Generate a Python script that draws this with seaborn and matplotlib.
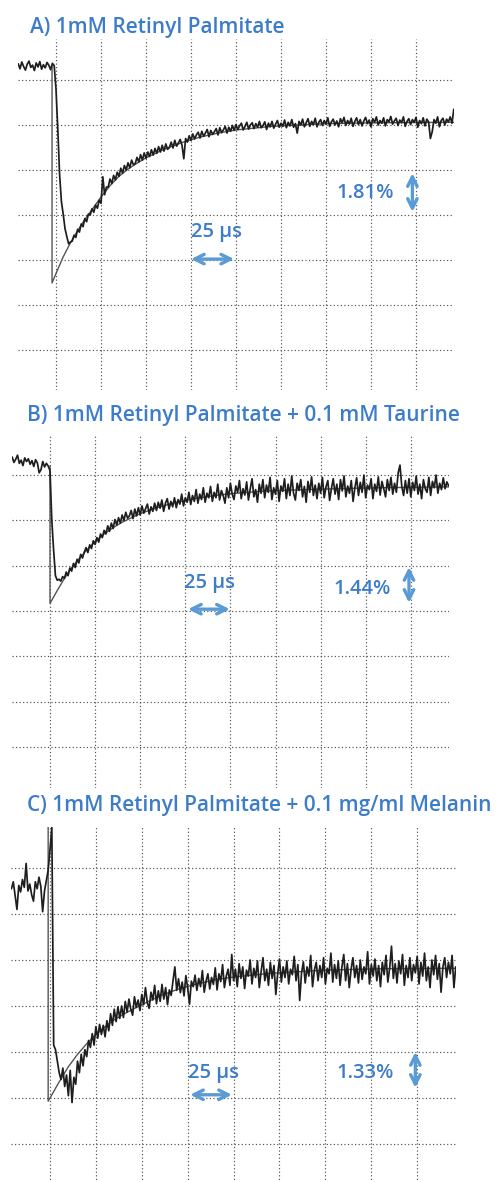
import numpy as np
import pandas as pd
import matplotlib
matplotlib.use("Agg")
import matplotlib.pyplot as plt
import seaborn as sns

W, H = 497, 1182

titles = ["A) 1mM Retinyl Palmitate",
          "B) 1mM Retinyl Palmitate + 0.1 mM Taurine",
          "C) 1mM Retinyl Palmitate + 0.1 mg/ml Melanin"]
scale_labels = ["1.81%", "1.44%", "1.33%"]   # signal per vertical division
time_label = "25 µs"                          # time per horizontal division

# oscilloscope samples: time (µs, 1 µs steps from -21 to 221), signal (divisions)
t_start, t_stop, t_step = -21, 222, 1

sig_a = [
    3.36, 3.25, 3.40, 3.30, 3.22, 3.35, 3.42, 3.28, 3.33, 3.21,        # -21..-12
    3.38, 3.29, 3.41, 3.24, 3.34, 3.27, 3.39, 3.33, 3.23, 3.37,        # -11..-2
    3.32, 2.80, 1.90, 0.90, 0.30, 0.02, -0.30, -0.48, -0.64, -0.60,    # -1..8
    -0.58, -0.45, -0.50, -0.32, -0.38, -0.20, -0.26, -0.08, -0.15, 0.02,  # 9..18
    0.00, 0.14, 0.06, 0.22, 0.15, 0.33, 0.26, 0.85, 0.45, 0.62,        # 19..28
    0.62, 0.80, 0.70, 0.88, 0.78, 0.95, 0.86, 1.04, 0.93, 1.10,        # 29..38
    1.00, 1.16, 1.05, 1.22, 1.12, 1.14, 1.28, 1.18, 1.34, 1.22,        # 39..48
    1.38, 1.26, 1.40, 1.30, 1.45, 1.33, 1.48, 1.37, 1.52, 1.40,        # 49..58
    1.55, 1.42, 1.58, 1.46, 1.50, 1.62, 1.49, 1.66, 1.53, 1.60,        # 59..68
    1.68, 1.55, 1.25, 1.70, 1.62, 1.76, 1.66, 1.80, 1.69, 1.78,        # 69..78
    1.84, 1.71, 1.86, 1.75, 1.82, 1.90, 1.74, 1.88, 1.79, 1.85,        # 79..88
    1.92, 1.78, 1.94, 1.83, 1.89, 1.97, 1.82, 1.95, 1.86, 1.99,        # 89..98
    1.88, 2.01, 1.90, 1.98, 2.04, 1.89, 1.97, 2.06, 1.91, 2.00,        # 99..108
    2.05, 1.92, 2.03, 1.95, 2.08, 1.94, 1.99, 2.07, 1.90, 2.04,        # 109..118
    1.96, 2.08, 1.93, 2.02, 2.10, 1.95, 2.04, 1.97, 2.11, 1.94,        # 119..128
    2.06, 1.98, 2.12, 1.95, 2.03, 1.82, 2.08, 2.00, 2.13, 1.96,        # 129..138
    2.05, 2.14, 1.97, 2.08, 2.01, 2.15, 1.96, 2.06, 2.12, 1.99,        # 139..148
    2.10, 2.02, 2.16, 1.97, 2.07, 2.13, 2.00, 2.09, 1.96, 2.14,        # 149..158
    2.05, 2.17, 1.99, 2.10, 2.02, 2.15, 1.97, 2.08, 2.16, 2.01,        # 159..168
    2.12, 1.98, 2.09, 2.17, 2.03, 2.11, 1.96, 2.14, 2.06, 2.18,        # 169..178
    2.00, 2.10, 2.04, 2.16, 1.98, 2.12, 2.07, 2.19, 2.02, 2.09,        # 179..188
    2.15, 1.99, 2.11, 2.05, 2.18, 1.97, 2.08, 2.14, 2.01, 2.12,        # 189..198
    2.06, 2.17, 1.95, 2.10, 2.03, 2.16, 1.98, 2.13, 2.07, 1.70,        # 199..208
    1.85, 2.12, 2.04, 2.18, 1.96, 2.10, 2.15, 2.00, 2.13, 2.07,        # 209..218
    2.18, 2.04, 2.35]                                                  # 219..221

sig_b = [
    3.40, 3.28, 3.35, 3.44, 3.26, 3.33, 3.21, 3.38, 3.30, 3.36,        # -21..-12
    3.24, 3.32, 3.19, 3.34, 3.27, 3.05, 3.12, 3.30, 3.18, 3.26,        # -11..-2
    3.20, 3.10, 2.00, 1.35, 0.78, 0.68, 0.70, 0.66, 0.76, 0.72,        # -1..8
    0.86, 0.78, 0.95, 0.88, 1.05, 0.96, 1.14, 1.06, 1.25, 1.17,        # 9..18
    1.30, 1.40, 1.29, 1.46, 1.38, 1.55, 1.47, 1.62, 1.52, 1.70,        # 19..28
    1.62, 1.78, 1.70, 1.88, 1.76, 1.94, 1.82, 2.02, 1.90, 2.06,        # 29..38
    1.94, 2.12, 2.00, 2.18, 2.05, 2.10, 2.22, 2.04, 2.25, 2.10,        # 39..48
    2.28, 2.12, 2.32, 2.16, 2.26, 2.36, 2.14, 2.30, 2.20, 2.38,        # 49..58
    2.22, 2.40, 2.27, 2.45, 2.20, 2.38, 2.48, 2.25, 2.42, 2.30,        # 59..68
    2.50, 2.28, 2.46, 2.36, 2.58, 2.32, 2.50, 2.40, 2.62, 2.35,        # 69..78
    2.55, 2.42, 2.68, 2.38, 2.58, 2.46, 2.72, 2.40, 2.60, 2.50,        # 79..88
    2.75, 2.42, 2.62, 2.50, 2.80, 2.45, 2.66, 2.55, 2.38, 2.72,        # 89..98
    2.50, 2.82, 2.58, 2.46, 2.76, 2.62, 2.88, 2.48, 2.70, 2.56,        # 99..108
    2.85, 2.45, 2.70, 2.92, 2.52, 2.68, 2.40, 2.80, 2.60, 2.90,        # 109..118
    2.50, 2.78, 2.62, 2.95, 2.46, 2.72, 2.58, 2.88, 2.42, 2.76,        # 119..128
    2.64, 2.92, 2.48, 2.80, 2.55, 2.98, 2.60, 2.45, 2.82, 2.66,        # 129..138
    2.90, 2.52, 2.75, 2.40, 2.86, 2.62, 2.96, 2.55, 2.78, 2.48,        # 139..148
    2.82, 2.60, 2.95, 2.50, 2.74, 2.88, 2.44, 2.70, 2.92, 2.58,        # 149..158
    2.80, 2.46, 2.90, 2.65, 2.98, 2.52, 2.76, 2.60, 2.88, 2.42,        # 159..168
    2.72, 2.94, 2.55, 2.84, 2.62, 3.00, 2.50, 2.78, 2.68, 2.92,        # 169..178
    2.48, 2.80, 2.64, 2.96, 2.56, 2.86, 2.70, 2.52, 2.90, 2.66,        # 179..188
    2.95, 2.58, 2.82, 2.62, 3.05, 3.22, 2.75, 2.55, 2.88, 2.60,        # 189..198
    2.92, 2.52, 2.84, 2.66, 2.98, 2.58, 2.80, 2.48, 2.90, 2.70,        # 199..208
    2.62, 2.95, 2.55, 2.86, 2.72, 3.00, 2.60, 2.82, 2.68, 2.94,        # 209..218
    2.70, 2.85, 2.76]                                                  # 219..221

sig_c = [
    2.55, 2.70, 2.40, 2.10, 2.62, 2.48, 2.75, 2.58, 3.10, 2.50,        # -21..-12
    2.65, 2.42, 2.28, 2.70, 2.55, 2.80, 2.60, 2.05, 2.50, 2.72,        # -11..-2
    2.95, 3.40, 3.88, -0.85, -0.95, -1.20, -1.45, -1.60, -1.35, -1.75, # -1..8
    -1.50, -1.95, -1.40, -2.10, -1.55, -1.70, -1.20, -1.45, -1.05, -1.30,  # 9..18
    -0.95, -1.10, -0.75, -0.90, -0.60, -0.85, -0.45, -0.70, -0.40, -0.62,  # 19..28
    -0.42, -0.67, -0.32, -0.54, -0.17, -0.42, -0.07, -0.34, -0.02, -0.27,  # 29..38
    0.00, -0.25, 0.10, -0.13, 0.15, -0.07, -0.20, 0.20, -0.03, 0.13,   # 39..48
    -0.10, 0.25, 0.03, 0.40, 0.07, -0.05, 0.30, 0.13, 0.45, 0.05,      # 49..58
    0.33, 0.10, 0.47, 0.15, 0.40, 0.03, 0.35, 0.23, 0.55, 0.85,        # 59..68
    0.34, 0.59, 0.29, 0.52, 0.22, 0.66, 0.39, 0.04, 0.54, 0.42,        # 69..78
    0.67, 0.34, 0.60, 0.42, 0.77, 0.30, 0.54, 0.70, 0.37, 0.62,        # 79..88
    0.47, 0.83, 0.35, 0.70, 0.53, 0.90, 0.40, 0.65, 0.80, 0.45,        # 89..98
    1.12, 0.55, 0.80, 0.42, 0.92, 0.60, 0.85, 0.38, 0.78, 0.65,        # 99..108
    1.00, 0.48, 0.82, 0.62, 0.98, 0.40, 0.75, 1.05, 0.55, 0.80,        # 109..118
    0.45, 0.95, 0.60, 0.88, 0.25, 0.70, 1.02, 0.52, 0.85, 0.62,        # 119..128
    0.98, 0.48, 0.80, 0.68, 1.08, 0.55, 0.90, 0.12, 0.72, 0.96,        # 129..138
    0.50, 0.85, 0.65, 1.10, 0.42, 0.78, 0.95, 0.55, 0.88, 0.62,        # 139..148
    1.05, 0.48, 0.82, 0.70, 1.15, 0.52, 0.90, 0.60, 0.98, 0.45,        # 149..158
    0.85, 1.12, 0.55, 0.92, 0.40, 0.80, 1.05, 0.62, 0.88, 0.50,        # 159..168
    1.00, 0.58, 0.85, 0.70, 1.18, 0.48, 0.90, 0.65, 1.02, 0.55,        # 169..178
    0.88, 0.42, 0.95, 0.68, 1.10, 0.52, 0.82, 1.30, 0.60, 0.92,        # 179..188
    0.50, 0.98, 0.70, 1.12, 0.45, 0.88, 0.62, 1.05, 0.55, 0.90,        # 189..198
    0.72, 1.08, 0.48, 0.95, 0.65, 1.15, 0.55, 0.85, 0.40, 1.00,        # 199..208
    0.68, 1.10, 0.58, 0.92, 0.30, 0.85, 1.05, 0.62, 0.95, 0.70,        # 209..218
    1.10, 0.40, 0.85]                                                  # 219..221

# exponential fit curves
fit_a_t = [-2.2, -2.2, 0, 4, 8, 12, 16, 20, 25, 30, 35, 40, 45, 50, 60, 70, 80, 90, 100, 120, 150, 180, 221]
fit_a = [3.31, -1.51, -1.30, -0.93, -0.62, -0.35, -0.10, 0.12, 0.40, 0.65, 0.86, 1.02, 1.15, 1.27,
         1.46, 1.61, 1.73, 1.82, 1.89, 1.97, 2.03, 2.05, 2.06]
fit_b_t = [0, 0, 4, 8, 12, 16, 20, 25, 30, 35, 40, 50, 60, 70, 80, 90, 100, 120, 150, 180, 221]
fit_b = [3.20, 0.17, 0.45, 0.72, 0.95, 1.15, 1.33, 1.53, 1.70, 1.84, 1.96, 2.15, 2.29, 2.40,
         2.48, 2.54, 2.59, 2.65, 2.69, 2.72, 2.74]
fit_c_t = [-1, -1, 5, 10, 15, 20, 25, 30, 35, 40, 50, 60, 70, 80, 90, 100, 120, 150, 180, 221]
fit_c = [3.90, -2.07, -1.65, -1.32, -1.05, -0.82, -0.62, -0.45, -0.30, -0.18, 0.03, 0.22, 0.37,
         0.48, 0.57, 0.63, 0.71, 0.78, 0.81, 0.82]

# layout (pixels): origin of t=0 / d=0, pixels per division (x, y), title position
panels = [
    dict(sig=sig_a, ft=fit_a_t, fv=fit_a, x0=56, y0=215, sx=45.0, sy=45.0, tx=30, ty=28,
         lab_t=(88.9, -0.38), harr=(75, 99, -0.98), lab_s=(171.7, 0.49), varr=(198, 0.93, 0.07)),
    dict(sig=sig_b, ft=fit_b_t, fv=fit_b, x0=50, y0=611, sx=45.1, sy=45.3, tx=27, ty=416,
         lab_t=(88.6, 0.62), harr=(76.5, 99.7, 0.04), lab_s=(172.9, 0.49), varr=(199, 0.97, 0.18)),
    dict(sig=sig_c, ft=fit_c_t, fv=fit_c, x0=50, y0=1006, sx=45.9, sy=46.0, tx=27, ty=805,
         lab_t=(89.3, -1.46), harr=(76.3, 99.1, -1.93), lab_s=(171.6, -1.46), varr=(199, -1.0, -1.78)),
]

XL = (-21, 221)
YL = (-3.9, 3.9)
BLUE_T = "#3d7cc9"
BLUE_A = "#5b9bd5"
FONT = "Open Sans"

sns.set_style("white")
plt.rcParams["font.family"] = [FONT, "DejaVu Sans"]

fig = plt.figure(figsize=(W / 100, H / 100), dpi=100)
t = np.arange(t_start, t_stop, t_step)

for i, p in enumerate(panels):
    left = p["x0"] + XL[0] / 25 * p["sx"]
    right = p["x0"] + XL[1] / 25 * p["sx"]
    top = p["y0"] - YL[1] * p["sy"]
    bot = p["y0"] - YL[0] * p["sy"]
    ax = fig.add_axes([left / W, 1 - bot / H, (right - left) / W, (bot - top) / H])
    df = pd.DataFrame({"t": t, "v": p["sig"]})
    fd = pd.DataFrame({"t": p["ft"], "v": p["fv"]})
    sns.lineplot(data=fd, x="t", y="v", ax=ax, color="#555555", lw=1.0,
                 estimator=None, sort=False, zorder=2)
    sns.lineplot(data=df, x="t", y="v", ax=ax, color="#1e1e1e", lw=1.25,
                 estimator=None, sort=False, zorder=3)
    ax.set_xlim(*XL)
    ax.set_ylim(*YL)
    ax.set_xticks(np.arange(0, 201, 25))
    ax.set_yticks(np.arange(-3, 4, 1))
    ax.grid(True, color="#505050", lw=0.85, ls=(0, (1, 2.0)))
    ax.tick_params(length=0, labelbottom=False, labelleft=False)
    ax.set_xlabel("")
    ax.set_ylabel("")
    for s in ax.spines.values():
        s.set_visible(False)
    ax.set_facecolor("none")

    ax.text(*p["lab_t"], time_label, color=BLUE_T, fontsize=14.5, ha="center", va="center",
            fontweight="semibold", zorder=5)
    ax.text(*p["lab_s"], scale_labels[i], color=BLUE_T, fontsize=14.5, ha="center", va="center",
            fontweight="semibold", zorder=5)
    h0, h1, hy = p["harr"]
    ax.annotate("", xy=(h1, hy), xytext=(h0, hy),
                arrowprops=dict(arrowstyle="<->", color=BLUE_A, lw=2.4, mutation_scale=17,
                                shrinkA=0, shrinkB=0), zorder=5)
    vx, v0, v1 = p["varr"]
    ax.annotate("", xy=(vx, v1), xytext=(vx, v0),
                arrowprops=dict(arrowstyle="<->", color=BLUE_A, lw=2.4, mutation_scale=17,
                                shrinkA=0, shrinkB=0), zorder=5)

    fig.text(p["tx"] / W, 1 - p["ty"] / H, titles[i], color=BLUE_T, fontsize=15,
             fontweight="semibold", ha="left", va="center")

fig.savefig("out.png", dpi=100)
